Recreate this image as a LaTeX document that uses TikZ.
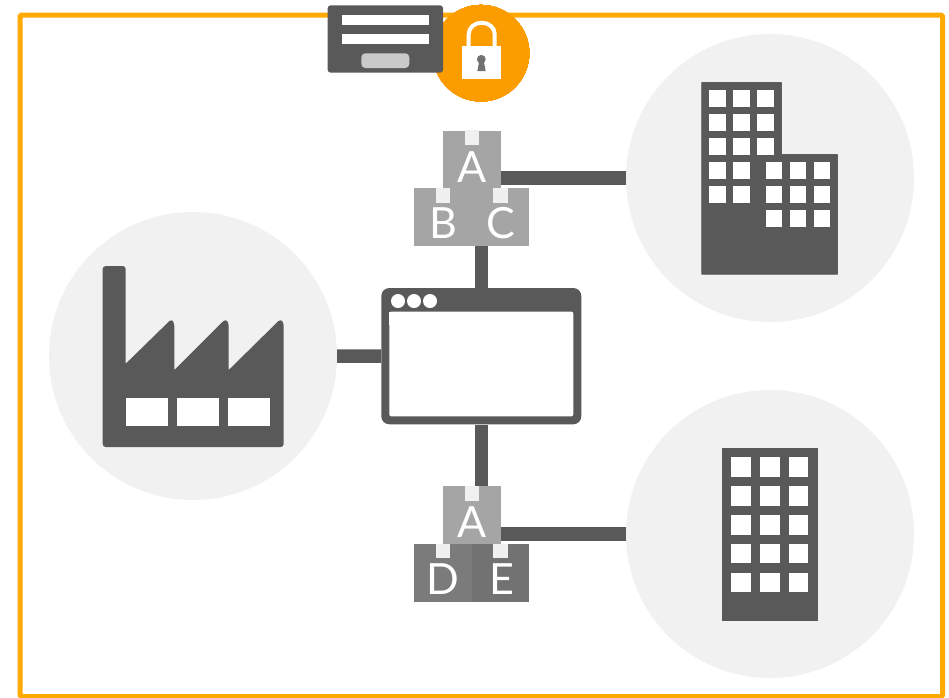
\documentclass[tikz,border=0pt]{standalone}
\usepackage{fontspec}
\setmainfont{Lato}
\definecolor{dark}{HTML}{595959}
\definecolor{framec}{HTML}{FFAA00}
\definecolor{lockc}{HTML}{FB9D00}
\definecolor{disc}{HTML}{F1F1F1}
\definecolor{pkgA}{HTML}{A5A5A5}
\definecolor{pkgD}{HTML}{7B7B7B}
\definecolor{pkgE}{HTML}{727272}
\definecolor{tabc}{HTML}{F0F0F0}
\tikzset{
  px/.style={x=1pt,y=-1pt},
  site/.style={circle,fill=disc,inner sep=0pt,minimum size=288pt},
  pkg/.style={rectangle,inner sep=0pt,minimum width=57.7pt,minimum height=57.6pt,fill=#1},
  tab/.style={fill=tabc},
  conn/.style={draw=dark,line width=13.4pt,line cap=butt},
  letter/.style={text=white,font=\fontsize{43}{43}\selectfont,inner sep=0pt,anchor=base},
  icon/.style={fill=dark},
  hole/.style={fill=white}
}
\newcommand{\pane}[4]{\fill[hole] (#1,#2) rectangle ++(#3,#4);}
\begin{document}
\begin{tikzpicture}[px]
\useasboundingbox (0,0) rectangle (949,697);
\fill[white] (0,0) rectangle (949,697);
% frame
\node[draw=framec,line width=5pt,rounded corners=1.5pt,inner sep=0pt,minimum width=922.5pt,minimum height=681.5pt] (frame) at (481.25,355.75) {};
% sites
\node[site] (factory) at (193,356) {};
\node[site] (officeA) at (770,178) {};
\node[site] (officeB) at (770,534) {};
% application window
\node[rectangle,rounded corners=8pt,fill=dark,inner sep=0pt,minimum width=200pt,minimum height=136.3pt] (app) at (481.3,356.15) {};
\fill[white,rounded corners=2pt] (389.3,311.7) rectangle (573.3,416.3);
\fill[white] (389.3,311.7) rectangle (573.3,325);
\foreach \x/\n in {398/1,414/2,430/3} \node[circle,fill=white,inner sep=0pt,minimum size=14pt] (dot\n) at (\x,301) {};
% packages
\node[pkg=pkgA] (a1) at (471.85,159.3) {};
\node[pkg=pkgA] (b) at (443.15,217) {};
\node[pkg=pkgA] (c) at (500.45,217) {};
\node[pkg=pkgA] (a2) at (471.85,515) {};
\node[pkg=pkgD] (d) at (443.15,572.7) {};
\node[pkg=pkgE] (e) at (500.45,572.7) {};
\foreach \p in {a1,a2,b,c,d,e} \fill[tab] ([xshift=-7.3pt]\p.north) rectangle ([xshift=7.3pt,yshift=-14.5pt]\p.north);
\node[letter] (la1) at (471.7,182) {A};
\node[letter] (lb) at (443.3,238) {B};
\node[letter] (lc) at (500.7,238) {C};
\node[letter] (la2) at (471.7,537.5) {A};
\node[letter] (ld) at (443.3,594) {D};
\node[letter] (le) at (501.7,594) {E};
% connectors
\draw[conn] (a1.east |- officeA) -- (officeA);
\draw[conn] (a2.east |- officeB) -- (officeB);
\draw[conn] (app.west) -- (factory);
\draw[conn] (app.north) -- (app.north |- b.south);
\draw[conn] (app.south) -- (app.south |- a2.north);
% factory
\fill[icon,rounded corners=3pt] (102.7,447) -- (102.7,266) -- (125.7,266) -- (125.7,300) [sharp corners] -- (125.7,363.7) [rounded corners=3pt] -- (171.5,319) -- (174.3,323) [sharp corners] -- (174.3,370) [rounded corners=3pt] -- (225.5,319) -- (228.7,323) [sharp corners] -- (228.7,370) [rounded corners=3pt] -- (280.5,319) -- (283.7,323) -- (283.7,447) -- cycle;
\foreach \x in {126,176.7,227.7} \pane{\x}{398}{42.3}{27.7}
% office A
\fill[icon] (701.7,82.3) -- (781.7,82.3) -- (781.7,154.3) -- (837.7,154.3) -- (837.7,274.3) -- (701.7,274.3) -- cycle;
\foreach \x in {709.3,733.3,757.3} \foreach \y in {90.3,114.3,138.3} \pane{\x}{\y}{16.3}{16.3}
\foreach \x in {709.3,733.3} \foreach \y in {162.3,186.3} \pane{\x}{\y}{16.3}{16.3}
\foreach \x in {765.7,789.7,813.7} \foreach \y in {162.3,186.3,210.3} \pane{\x}{\y}{16.3}{16.3}
% office B
\fill[icon] (721.7,447.7) rectangle (817.7,620.7);
\foreach \x in {731.3,760.3,789} \foreach \y in {457.3,486.3,515.2,544,572.8} \pane{\x}{\y}{19.3}{19.3}
% lock
\node[circle,fill=lockc,inner sep=0pt,minimum size=96.6pt] (lock) at (481,53.2) {};
\fill[white] (462.3,46) rectangle (501,79);
\draw[white,line width=4pt] (468.7,47) -- (468.7,34) arc[start angle=180,end angle=0,x radius=13,y radius=-11.3] -- (494.7,47);
\fill[dark!85!white] (481.3,59.3) circle[radius=4.4];
\fill[dark!85!white] (479.5,60) -- (483.5,60) -- (485.7,71) -- (477.3,71) -- cycle;
% login form
\node[rectangle,rounded corners=3pt,fill=dark,inner sep=0pt,minimum width=115.3pt,minimum height=67.4pt] (login) at (385.35,39) {};
\pane{342.3}{15.3}{86.4}{9.4}
\pane{342.3}{34.3}{86.4}{9.7}
\fill[fill=black!21,rounded corners=4pt] (361.3,53.3) rectangle (409.3,68);
\end{tikzpicture}
\end{document}
